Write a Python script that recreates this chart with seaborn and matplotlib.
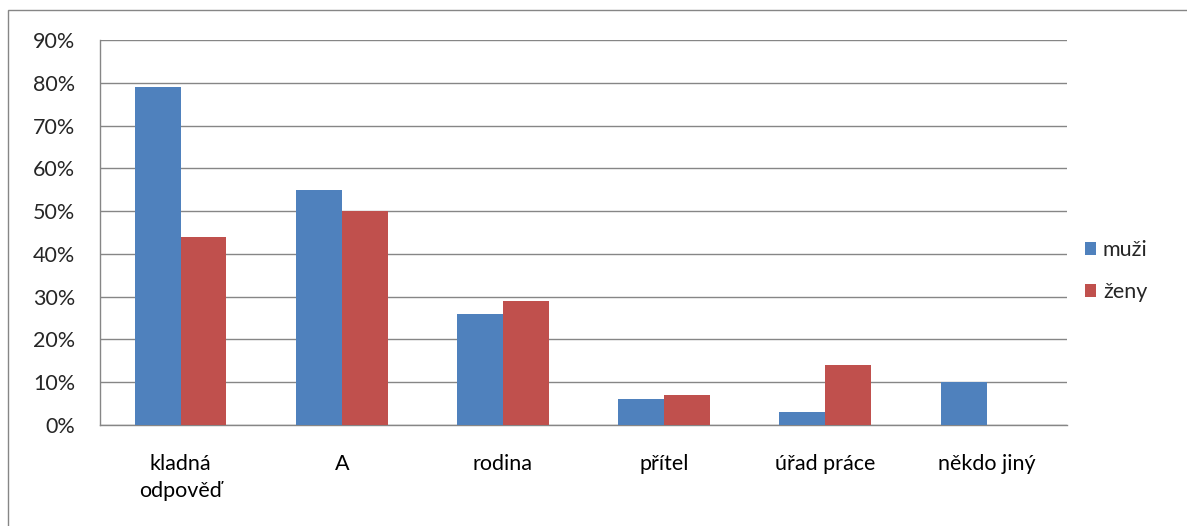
import pandas as pd
import numpy as np
import matplotlib.pyplot as plt
from matplotlib.patches import Rectangle
from matplotlib.ticker import PercentFormatter, MultipleLocator
import seaborn as sns

categories = ['kladná\nodpověď', 'A', 'rodina', 'přítel', 'úřad práce', 'někdo jiný']
muzi = [79, 55, 26, 6, 3, 10]
zeny = [44, 50, 29, 7, 14, 0]
series = ['muži', 'ženy']
colors = ['#4F81BD', '#C0504D']

df = pd.DataFrame({
    'kategorie': categories * 2,
    'hodnota': muzi + zeny,
    'pohlavi': [series[0]] * len(categories) + [series[1]] * len(categories),
})

sns.set_style('white')
plt.rcParams['font.family'] = ['Lato', 'DejaVu Sans']

fig = plt.figure(figsize=(11.87, 5.26), dpi=100)
ax = fig.add_axes([0.0842, 0.192, 0.8148, 0.732])

sns.barplot(data=df, x='kategorie', y='hodnota', hue='pohlavi', palette=colors,
            width=0.57, saturation=1, linewidth=0, ax=ax, zorder=3)

ax.set_ylim(0, 90)
ax.yaxis.set_major_locator(MultipleLocator(10))
ax.yaxis.set_major_formatter(PercentFormatter(decimals=0))
ax.grid(axis='y', color='#868686', linewidth=1, zorder=0)
ax.set_axisbelow(True)
ax.set_xlabel('')
ax.set_ylabel('')

for side in ['top', 'right']:
    ax.spines[side].set_visible(False)
for side in ['left', 'bottom']:
    ax.spines[side].set_color('#868686')
    ax.spines[side].set_linewidth(1)

# tick marks between categories on x, outward on y
ax.set_xticks(np.arange(len(categories)))
ax.set_xticklabels(categories, fontsize=15.5, color='black', linespacing=1.45)
ax.set_xticks(np.arange(-0.5, len(categories), 1), minor=True)
ax.tick_params(axis='x', which='major', length=0, pad=21)
ax.tick_params(axis='x', which='minor', length=6, color='#868686', width=1, direction='out')
ax.tick_params(axis='y', length=6, color='#868686', width=1, direction='out', labelsize=15.5, pad=12)
ax.set_xlim(-0.5, len(categories) - 0.5)

leg = ax.legend(loc='center left', bbox_to_anchor=(0.998, 0.4), frameon=False,
                fontsize=15.5, handlelength=0.55, handleheight=0.55, handletextpad=0.3,
                labelspacing=1.0)

# outer chart border (only left/top visible in reference)
fig.patches.append(Rectangle((8 / 1187, -0.1), 1.2, 1 - 10 / 526 + 0.1,
                             transform=fig.transFigure, fill=False,
                             edgecolor='#868686', linewidth=1))

fig.savefig('out.png', dpi=100)
